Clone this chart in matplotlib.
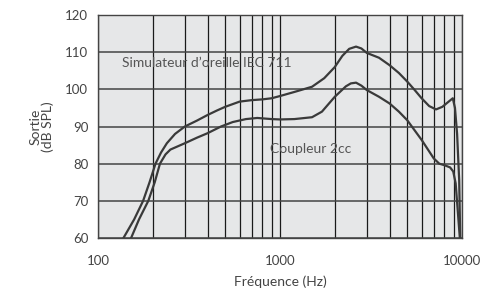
import numpy as np
import matplotlib
matplotlib.use("Agg")
import matplotlib.pyplot as plt
from matplotlib.ticker import FixedLocator, NullFormatter

plt.rcParams['font.family'] = ['Lato', 'DejaVu Sans']

# frequency response
freq_ear = [138, 158, 177, 192, 207, 222, 239, 265, 300, 350, 400, 450, 500, 600, 700,
            800, 900, 1000, 1200, 1500, 1750, 2000, 2200, 2400, 2617, 2800, 3000, 3500,
            4000, 4500, 5000, 5500, 6000, 6600, 7200, 7800, 8400, 8900, 9150, 9400,
            9650, 9780]
spl_ear = [60, 65, 70, 75, 80, 83, 85.5, 88, 90, 91.6, 93.1, 94.3, 95.3, 96.7, 97.1,
           97.3, 97.6, 98.2, 99.3, 100.7, 103, 106, 109, 110.9, 111.5, 111, 109.8, 108.5,
           106.5, 104.4, 102.1, 99.8, 97.6, 95.5, 94.6, 95.3, 96.6, 97.6, 95, 88,
           75.6, 60]

freq_cpl = [152, 168, 189, 205, 219, 235, 250, 300, 350, 400, 474, 550, 650, 750, 900,
            1000, 1200, 1500, 1700, 2000, 2300, 2450, 2617, 2800, 3000, 3500, 4000, 4500,
            5000, 6000, 7000, 7500, 8000, 8600, 8950, 9230, 9500, 9730]
spl_cpl = [60, 65, 70, 75, 80, 82.5, 83.8, 85.5, 87, 88.2, 90, 91.2, 92, 92.3, 92,
           91.9, 92, 92.5, 94, 98, 100.8, 101.6, 101.8, 101, 99.8, 98, 96.2, 94,
           91.7, 86.4, 81.4, 80, 79.6, 79.0, 77.9, 74.7, 66.7, 60]

fig = plt.figure(figsize=(4.82, 2.91), dpi=100)
ax = fig.add_axes([0.2033, 0.1821, 0.7552, 0.7663])
ax.set_facecolor('#e6e7e8')

ax.semilogx(freq_ear, spl_ear, color='#3a3a3a', lw=1.6, solid_joinstyle='round')
ax.semilogx(freq_cpl, spl_cpl, color='#3a3a3a', lw=1.6, solid_joinstyle='round')

ax.set_xlim(100, 10000)
ax.set_ylim(60, 120)

ax.xaxis.set_major_locator(FixedLocator([100, 1000, 10000]))
ax.xaxis.set_minor_locator(FixedLocator([200, 300, 400, 500, 600, 700, 800, 900,
                                         2000, 3000, 4000, 5000, 6000, 7000, 8000, 9000]))
ax.xaxis.set_minor_formatter(NullFormatter())
ax.set_xticklabels(['100', '1000', '10000'])
ax.set_yticks([60, 70, 80, 90, 100, 110, 120])

ax.grid(True, which='both', axis='x', color='#1a1a1a', lw=0.9)
ax.grid(True, which='major', axis='y', color='#444444', lw=1.1)
ax.set_axisbelow(True)

ax.tick_params(which='both', length=0, labelsize=9.5, labelcolor='#444444')
ax.tick_params(axis='x', pad=12)
ax.tick_params(axis='y', pad=7)
for s in ax.spines.values():
    s.set_color('#444444')
    s.set_linewidth(1.0)

ax.set_xlabel('Fréquence (Hz)', fontsize=10, color='#444444', labelpad=6)
ax.set_ylabel('Sortie\n(dB SPL)', fontsize=10, color='#444444', labelpad=8, linespacing=1.0)

ax.text(397, 107.1, "Simulateur d’oreille IEC 711", fontsize=10, color='#555555',
        ha='center', va='center')
ax.text(1480, 83.9, "Coupleur 2cc", fontsize=10, color='#555555',
        ha='center', va='center')

fig.savefig('out.png', dpi=100)
